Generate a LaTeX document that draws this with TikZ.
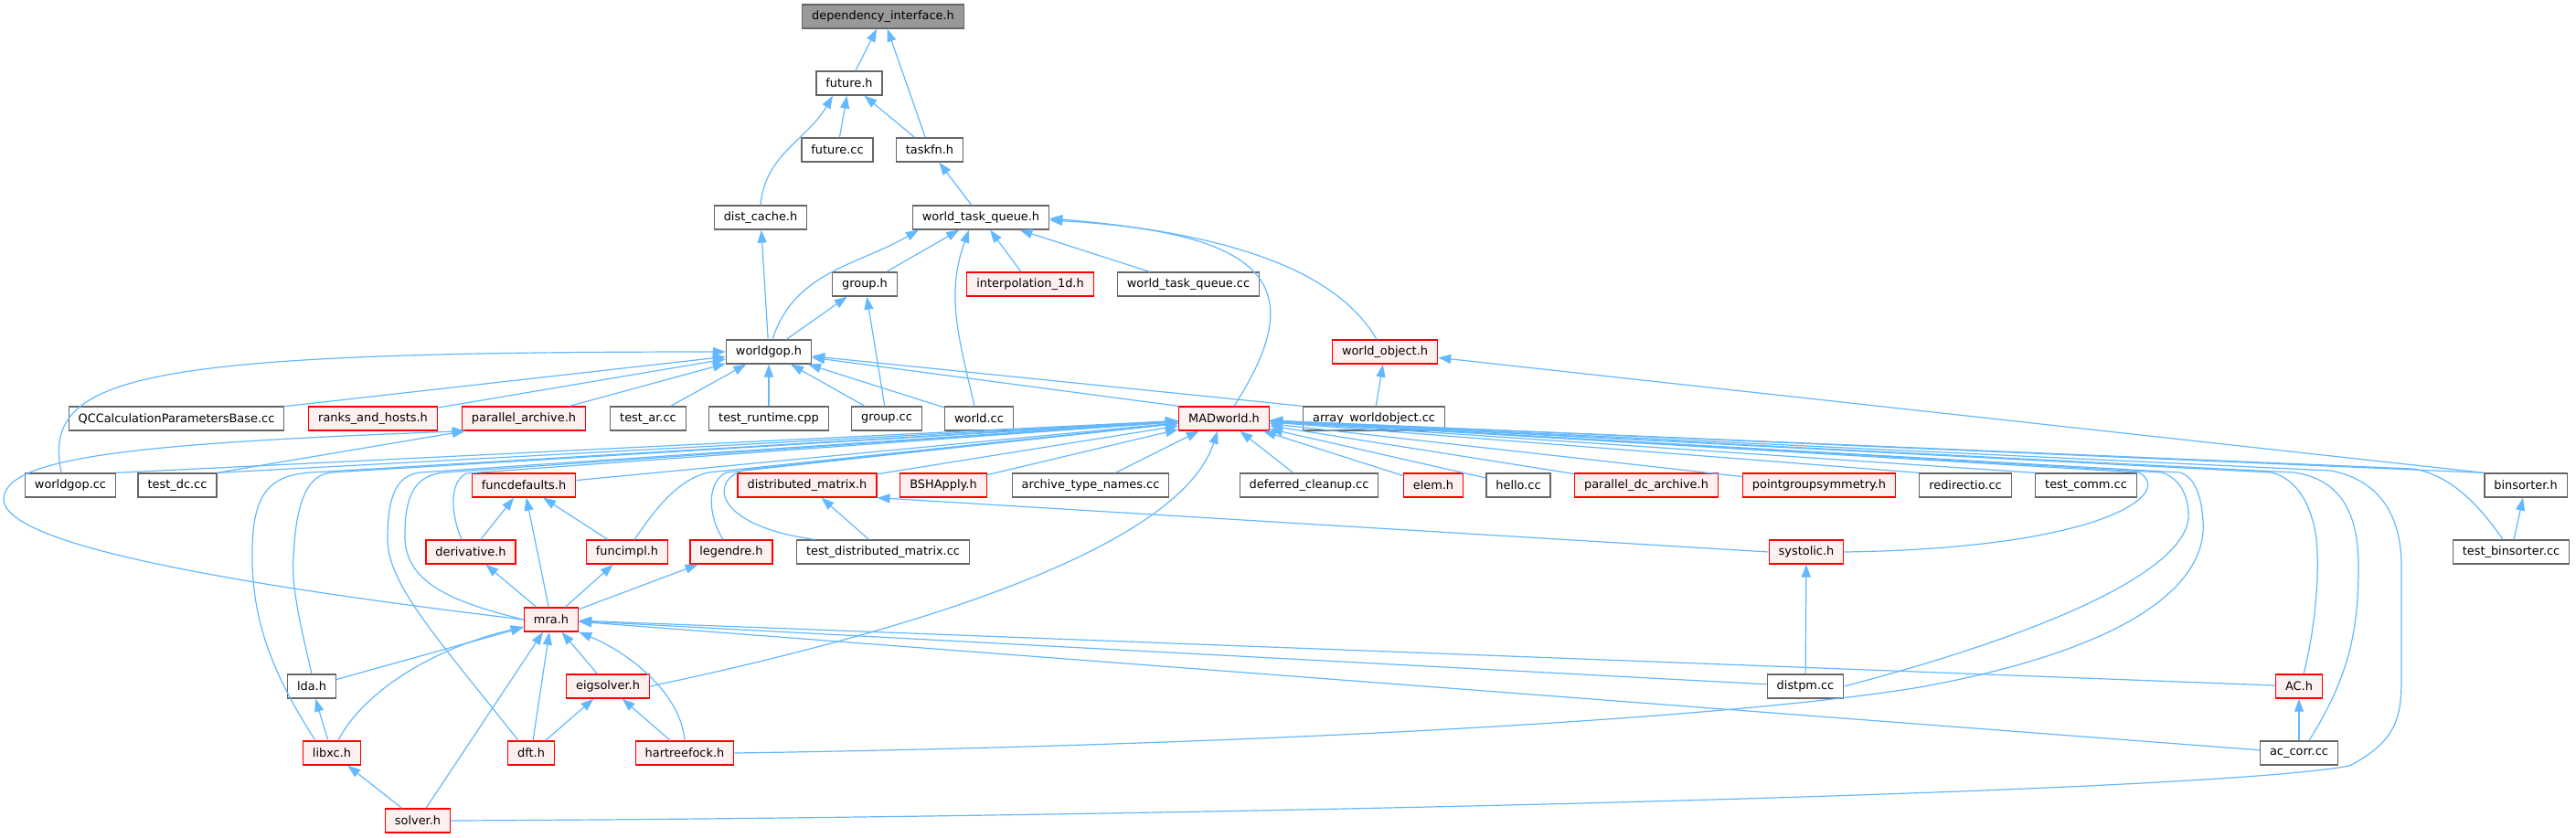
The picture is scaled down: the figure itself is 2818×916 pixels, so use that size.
\documentclass[tikz,border=0pt]{standalone}
\usepackage{fontspec}
\setmainfont{DejaVu Sans}
\usepackage{tikz}
\usetikzlibrary{arrows.meta, positioning}
\definecolor{edgeblue}{HTML}{63B8FF}
\definecolor{boxgray}{HTML}{666666}
\definecolor{rootgray}{HTML}{999999}
\definecolor{truncpink}{HTML}{FFF0F0}

\begin{document}
\begin{tikzpicture}[x=1pt, y=-1pt,
  filebox/.style={rectangle, draw=boxgray, fill=white, line width=1.3pt, minimum height=26pt, inner xsep=10.5pt, inner ysep=0pt, font=\fontsize{12.9}{15}\selectfont},
  redbox/.style={filebox, draw=red, fill=truncpink},
  rootbox/.style={filebox, fill=rootgray},
  incl/.style={-{Triangle[length=14pt, width=10pt]}, draw=edgeblue, line width=1.2pt}
]
  \useasboundingbox (0,0) rectangle (2818,916);

  \node[rootbox] (di) at (966,18) {dependency\_interface.h};
  \node[filebox] (futh) at (929,91) {future.h};
  \node[filebox] (futcc) at (916,164) {future.cc};
  \node[filebox] (taskfn) at (1017,164) {taskfn.h};
  \node[filebox] (distcache) at (832,238) {dist\_cache.h};
  \node[filebox] (wtq) at (1073,238) {world\_task\_queue.h};
  \node[filebox] (grouph) at (946,311) {group.h};
  \node[redbox] (interp) at (1127,311) {interpolation\_1d.h};
  \node[filebox] (wtqcc) at (1300,311) {world\_task\_queue.cc};
  \node[filebox] (worldgop) at (841,385) {worldgop.h};
  \node[redbox] (worldobj) at (1515,385) {world\_object.h};
  \node[filebox] (qccalc) at (193,458) {QCCalculationParametersBase.cc};
  \node[redbox] (ranks) at (408,458) {ranks\_and\_hosts.h};
  \node[redbox] (parch) at (573,458) {parallel\_archive.h};
  \node[filebox] (testar) at (709,458) {test\_ar.cc};
  \node[filebox] (testrt) at (841,458) {test\_runtime.cpp};
  \node[filebox] (groupcc) at (970,458) {group.cc};
  \node[filebox] (worldcc) at (1071,458) {world.cc};
  \node[redbox] (madworld) at (1339,458) {MADworld.h};
  \node[filebox] (arraywo) at (1503,458) {array\_worldobject.cc};
  \node[filebox] (worldgopcc) at (77,531) {worldgop.cc};
  \node[filebox] (testdc) at (194,531) {test\_dc.cc};
  \node[redbox] (funcdef) at (573,531) {funcdefaults.h};
  \node[redbox] (distmat) at (883,531) {distributed\_matrix.h};
  \node[redbox] (bshapply) at (1032,531) {BSHApply.h};
  \node[filebox] (archnames) at (1193,531) {archive\_type\_names.cc};
  \node[filebox] (deferred) at (1432,531) {deferred\_cleanup.cc};
  \node[redbox] (elem) at (1568,531) {elem.h};
  \node[filebox] (hello) at (1661,531) {hello.cc};
  \node[redbox] (pdcarch) at (1801,531) {parallel\_dc\_archive.h};
  \node[redbox] (pgsym) at (1990,531) {pointgroupsymmetry.h};
  \node[filebox] (redirectio) at (2150,531) {redirectio.cc};
  \node[filebox] (testcomm) at (2282,531) {test\_comm.cc};
  \node[filebox] (binsorter) at (2763,531) {binsorter.h};
  \node[redbox] (deriv) at (515,604) {derivative.h};
  \node[redbox] (funcimpl) at (686,604) {funcimpl.h};
  \node[redbox] (legendre) at (800,604) {legendre.h};
  \node[filebox] (testdm) at (966,604) {test\_distributed\_matrix.cc};
  \node[redbox] (systolic) at (1976,604) {systolic.h};
  \node[filebox] (testbin) at (2747,604) {test\_binsorter.cc};
  \node[redbox] (mra) at (603,678) {mra.h};
  \node[filebox] (lda) at (341,751) {lda.h};
  \node[redbox] (eigsolver) at (665,751) {eigsolver.h};
  \node[filebox] (distpm) at (1975,751) {distpm.cc};
  \node[redbox] (ach) at (2515,751) {AC.h};
  \node[redbox] (libxc) at (363,824) {libxc.h};
  \node[redbox] (dft) at (581,824) {dft.h};
  \node[redbox] (hf) at (749,824) {hartreefock.h};
  \node[filebox] (accorr) at (2515,824) {ac\_corr.cc};
  \node[redbox] (solver) at (457,898) {solver.h};

  \draw[incl] (futh) -- (di);
  \draw[incl] (taskfn) -- (di);
  \draw[incl] (futcc) -- (futh);
  \draw[incl] (taskfn) -- (futh);
  \draw[incl] (distcache.north) to[out=85,in=-120] ([xshift=-18pt]futh.south);
  \draw[incl] (wtq) -- (taskfn);
  \draw[incl] (worldgop) -- (distcache);
  \draw[incl] ([xshift=4pt]worldgop.north) to[out=72,in=-150] ([xshift=-68pt]wtq.south);
  \draw[incl] (grouph) -- (wtq);
  \draw[incl] ([xshift=-5pt]worldcc.north) to[out=103,in=-110] ([xshift=-13pt]wtq.south);
  \draw[incl] (interp) -- (wtq);
  \draw[incl] (wtqcc) -- (wtq);
  \draw[incl] ([xshift=11pt]madworld.north) .. controls (1430,320) and (1400,255) .. ([yshift=-3pt]wtq.east);
  \draw[incl] ([xshift=-9pt]worldobj.north) .. controls (1470,310) and (1380,258) .. ([yshift=-1pt]wtq.east);
  \draw[incl] (worldgop) -- (grouph);
  \draw[incl] (groupcc) -- (grouph);

  \draw[incl] ([xshift=-10pt]worldgopcc.north) .. controls (45,410) and (150,385) .. (worldgop.west);
  \draw[incl] (qccalc) -- (worldgop);
  \draw[incl] (ranks) -- (worldgop);
  \draw[incl] (parch) -- (worldgop);
  \draw[incl] (testar) -- (worldgop);
  \draw[incl] (testrt) -- (worldgop);
  \draw[incl] (groupcc) -- (worldgop);
  \draw[incl] (worldcc) -- (worldgop);
  \draw[incl] (madworld.north west) -- (worldgop);
  \draw[incl] (arraywo.north west) -- (worldgop);
  \draw[incl] (arraywo) -- (worldobj);
  \draw[incl] (binsorter.north west) -- (worldobj);

  \draw[incl] (testdc.north east) -- ([xshift=4pt]parch.south west);
  \draw[incl] (mra.west) .. controls (300,645) and (0,600) .. (4,545) .. controls (8,500) and (150,485) .. ([xshift=4pt]parch.south west);

  \draw[incl] (worldgopcc.north east) -- (madworld);
  \draw[incl] (testdc.north east) -- (madworld);
  \draw[incl] ([xshift=-18pt]libxc.north) .. controls (300,740) and (274,680) .. (276,600) .. controls (277,540) and (295,520) .. (340,517) -- (madworld);
  \draw[incl] (lda.north) .. controls (330,690) and (318,640) .. (321,610) .. controls (324,540) and (340,520) .. (362,517) -- (madworld);
  \draw[incl] ([xshift=-14pt]dft.north) .. controls (480,700) and (424,640) .. (424,590) .. controls (424,540) and (435,520) .. (460,517) -- (madworld);
  \draw[incl] (mra.west) .. controls (500,660) and (445,640) .. (443,590) .. controls (442,540) and (455,520) .. (486,517) -- (madworld);
  \draw[incl] ([xshift=-10pt]deriv.north) .. controls (496,570) and (488,530) .. (510,518) -- (madworld);
  \draw[incl] (funcdef) -- (madworld);
  \draw[incl] ([xshift=8pt]funcimpl.north) .. controls (715,560) and (740,525) .. (775,517) -- (madworld);
  \draw[incl] ([xshift=-9pt]legendre.north) .. controls (772,560) and (775,525) .. (795,517) -- (madworld);
  \draw[incl] ([xshift=-75pt]testdm.north) .. controls (780,575) and (775,525) .. (815,514) -- (madworld);
  \draw[incl] (distmat) -- (madworld);
  \draw[incl] (bshapply) -- (madworld);
  \draw[incl] (archnames) -- (madworld);
  \draw[incl] (eigsolver.east) .. controls (1000,690) and (1290,600) .. ([xshift=-7pt]madworld.south);
  \draw[incl] (deferred) -- (madworld);
  \draw[incl] (elem) -- (madworld);
  \draw[incl] (hello) -- (madworld);
  \draw[incl] (pdcarch) -- (madworld);
  \draw[incl] (pgsym) -- (madworld);
  \draw[incl] (redirectio.north west) -- (madworld);
  \draw[incl] (testcomm.north west) -- (madworld);
  \draw[incl] (systolic.east) .. controls (2300,600) and (2380,540) .. (2340,517) -- (madworld);
  \draw[incl] (distpm.east) .. controls (2250,690) and (2400,620) .. (2394,560) .. controls (2392,535) and (2380,522) .. (2365,517) -- (madworld);
  \draw[incl] (hf.east) .. controls (1400,815) and (1900,785) .. (2100,752) .. controls (2330,710) and (2415,640) .. (2410,570) .. controls (2408,540) and (2400,522) .. (2385,517) -- (madworld);
  \draw[incl] ([xshift=5pt]ach.north) .. controls (2535,680) and (2540,600) .. (2530,570) .. controls (2522,540) and (2505,522) .. (2485,517) -- (madworld);
  \draw[incl] ([xshift=11pt]accorr.north) .. controls (2570,740) and (2580,690) .. (2580,620) .. controls (2580,560) and (2560,525) .. (2510,517) -- (madworld);
  \draw[incl] (solver.east) .. controls (1200,895) and (2400,870) .. (2570,838) .. controls (2625,810) and (2627,780) .. (2627,740) -- (2627,620) .. controls (2627,560) and (2600,525) .. (2550,515) -- (madworld);
  \draw[incl] ([xshift=-9pt]testbin.north) .. controls (2710,550) and (2680,520) .. (2640,513) -- (madworld);
  \draw[incl] (binsorter.north west) -- (madworld);

  \draw[incl] (deriv) -- (funcdef);
  \draw[incl] (funcimpl) -- (funcdef);
  \draw[incl] (testdm) -- (distmat);
  \draw[incl] (systolic.west) -- (distmat.south east);
  \draw[incl] (testbin) -- (binsorter);

  \draw[incl] (mra) -- (deriv);
  \draw[incl] (mra) -- (funcdef);
  \draw[incl] (mra) -- (funcimpl);
  \draw[incl] (mra) -- (legendre);
  \draw[incl] (lda) -- (mra);
  \draw[incl] ([xshift=7pt]libxc.north) .. controls (395,760) and (470,710) .. ([yshift=-8pt]mra.west);
  \draw[incl] (solver) -- (mra);
  \draw[incl] (dft) -- (mra);
  \draw[incl] (eigsolver) -- (mra);
  \draw[incl] (hf.north) .. controls (745,760) and (690,715) .. (mra.south east);
  \draw[incl] (ach) -- (mra);
  \draw[incl] (distpm) -- (mra);
  \draw[incl] (accorr) -- (mra);

  \draw[incl] (dft) -- (eigsolver);
  \draw[incl] (hf) -- (eigsolver);
  \draw[incl] (libxc) -- (lda);
  \draw[incl] (solver) -- (libxc);
  \draw[incl] (distpm) -- (systolic);
  \draw[incl] (accorr) -- (ach);
\end{tikzpicture}
\end{document}
